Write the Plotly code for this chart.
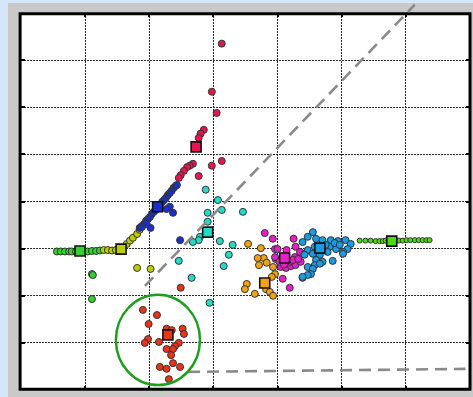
import plotly.graph_objects as go

# ---- data (cluster members and cluster centres) ----
crimson_x = [3.13, 2.975, 3.05, 2.85, 2.80, 2.77, 2.68, 2.63, 2.59, 2.54, 2.49, 2.46, 2.77, 2.975, 3.13]
crimson_y = [7.35, 6.33, 5.88, 5.52, 5.44, 5.35, 4.80, 4.76, 4.73, 4.65, 4.56, 4.50, 4.54, 4.76, 4.86]
crimson_c = [2.73, 5.16]

blue_x = [1.85, 1.885, 1.92, 1.95, 1.98, 2.01, 2.04, 2.07, 2.10, 2.165, 2.20, 2.23, 2.26, 2.29, 2.32, 2.35, 2.38, 2.41, 2.43,
          2.32, 2.37, 2.27, 2.02, 1.96, 1.885, 2.48]
blue_y = [3.44, 3.48, 3.52, 3.59, 3.63, 3.67, 3.74, 3.78, 3.82, 3.93, 3.99, 4.03, 4.08, 4.14, 4.18, 4.23, 4.29, 4.33, 4.35,
          3.89, 3.76, 3.84, 3.44, 3.52, 3.46, 3.18]
blue_c = [2.13, 3.89]

yellow_x = [1.29, 1.355, 1.42, 1.48, 1.65, 1.70, 1.745, 1.81, 1.85, 1.81, 2.02]
yellow_y = [2.97, 2.97, 2.96, 2.97, 3.10, 3.17, 3.23, 3.31, 3.40, 2.59, 2.57]
yellow_c = [1.56, 2.99]

green_x = [0.56, 0.62, 0.685, 0.75, 0.79, 0.857, 0.98, 1.04, 1.106, 1.17, 1.23, 1.106, 1.12, 1.106]
green_y = [2.94, 2.94, 2.94, 2.94, 2.94, 2.94, 2.94, 2.94, 2.95, 2.95, 2.96, 2.46, 2.44, 1.93]
green_c = [0.92, 2.95]

cyan_x = [2.88, 3.07, 3.13, 3.46, 2.91, 2.91, 2.79, 2.77, 2.68, 3.10, 3.30, 3.24, 3.16, 2.46, 2.66, 2.94]
cyan_y = [4.25, 4.03, 3.82, 3.78, 3.76, 3.57, 3.25, 3.18, 3.14, 3.16, 3.08, 2.87, 2.63, 2.74, 2.38, 1.85]
cyan_c = [2.91, 3.35]

orange_x = [3.54, 3.74, 3.785, 3.71, 3.83, 3.93, 3.96, 3.91, 3.52, 3.49, 3.645, 3.82, 3.88, 3.93, 3.69]
orange_y = [3.10, 3.01, 2.80, 2.65, 2.70, 2.61, 2.46, 2.40, 2.25, 2.14, 2.04, 2.14, 2.08, 2.00, 2.80]
orange_c = [3.80, 2.27]

magenta_x = [3.80, 3.925, 4.25, 3.96, 4.00, 3.97, 4.05, 4.13, 4.21, 4.28, 4.27, 4.28, 4.35, 4.08, 4.19, 4.39,
             3.96, 4.03, 4.36, 4.42, 4.14, 4.19, 4.10, 4.24, 4.32]
magenta_y = [3.33, 3.21, 3.21, 2.99, 2.99, 2.78, 2.61, 2.59, 2.63, 2.65, 2.82, 3.04, 2.93, 2.36, 2.17, 2.38,
             2.82, 2.72, 2.72, 2.89, 2.97, 2.72, 2.66, 2.76, 2.78]
magenta_c = [4.11, 2.80]

sky_x = [4.55, 4.47, 4.39, 4.60, 4.70, 4.83, 4.94, 5.06, 5.14, 5.09, 5.02, 4.91, 4.81, 4.75, 4.58, 4.47, 4.42,
         4.55, 4.66, 4.60, 4.70, 4.58, 4.47, 4.66, 4.86, 5.02, 4.55, 4.52, 4.47, 4.39, 4.89, 4.97, 4.78]
sky_y = [3.35, 3.25, 3.14, 3.21, 3.18, 3.18, 3.16, 3.18, 3.10, 2.99, 2.93, 2.99, 3.04, 3.08, 3.04, 2.97, 2.87,
         2.89, 2.87, 2.76, 2.72, 2.65, 2.61, 2.68, 2.74, 2.89, 2.57, 2.46, 2.44, 2.40, 3.12, 3.08, 2.93]
sky_c = [4.66, 3.01]

lime_x = [5.28, 5.37, 5.45, 5.53, 5.59, 5.64, 5.685, 5.73, 5.84, 5.89, 5.95, 6.01, 6.07, 6.14, 6.20, 6.26, 6.32, 6.37]
lime_y = [3.17, 3.17, 3.17, 3.16, 3.16, 3.16, 3.17, 3.17, 3.17, 3.17, 3.17, 3.18, 3.18, 3.18, 3.18, 3.18, 3.18, 3.18]
lime_c = [5.78, 3.16]

red_x = [1.90, 2.12, 1.99, 2.27, 2.35, 2.52, 2.54, 1.98, 1.93, 2.15, 2.46, 2.40, 2.27, 2.37, 2.34, 2.37, 2.48,
         2.165, 2.27, 2.305, 2.49]
red_y = [1.70, 1.59, 1.40, 1.30, 1.27, 1.30, 1.19, 1.08, 1.00, 1.02, 1.00, 0.93, 0.87, 0.87, 0.74, 0.57, 0.49,
         0.49, 0.45, 0.23, 2.17]
red_c = [2.29, 1.17]

clusters = [
    (green_x, green_y, green_c, "#33d22e", 7),
    (yellow_x, yellow_y, yellow_c, "#bccc00", 7),
    (blue_x, blue_y, blue_c, "#1a2fcc", 7),
    (crimson_x, crimson_y, crimson_c, "#ea1350", 7),
    (cyan_x, cyan_y, cyan_c, "#22dcc8", 7),
    (orange_x, orange_y, orange_c, "#f2a312", 7),
    (magenta_x, magenta_y, magenta_c, "#e81ec8", 7),
    (sky_x, sky_y, sky_c, "#1b9be2", 7),
    (lime_x, lime_y, lime_c, "#4cdc14", 5),
    (red_x, red_y, red_c, "#ea3418", 7),
]

fig = go.Figure()
for xs, ys, c, col, sz in clusters:
    fig.add_trace(go.Scatter(x=xs, y=ys, mode="markers",
                             marker=dict(symbol="circle", size=sz, color=col,
                                         line=dict(color="#333333", width=1)),
                             showlegend=False, hoverinfo="skip"))
for xs, ys, c, col, sz in clusters:
    fig.add_trace(go.Scatter(x=[c[0]], y=[c[1]], mode="markers",
                             marker=dict(symbol="square", size=10, color=col,
                                         line=dict(color="#111111", width=1.6)),
                             showlegend=False, hoverinfo="skip"))

shapes = [
    # light blue window strips
    dict(type="rect", xref="paper", yref="paper", x0=-0.05, x1=-0.029, y0=-0.03, y1=1.04,
         fillcolor="#d6e6fa", line=dict(width=0), layer="below"),
    dict(type="rect", xref="paper", yref="paper", x0=-0.05, x1=1.01, y0=1.0265, y1=1.04,
         fillcolor="#d6e6fa", line=dict(width=0), layer="below"),
    # frame
    dict(type="rect", xref="paper", yref="paper", x0=-0.002, x1=1.0, y0=0.002, y1=0.998,
         line=dict(color="#000000", width=3)),
    # dashed guide lines
    dict(type="line", xref="paper", yref="paper", x0=0.276, y0=0.276, x1=0.877, y1=1.022,
         line=dict(color="#8a8a8a", width=2.6, dash="12px,7px")),
    dict(type="line", xref="paper", yref="paper", x0=0.372, y0=0.048, x1=0.99, y1=0.056,
         line=dict(color="#8a8a8a", width=2.6, dash="12px,7px")),
    # green circle
    dict(type="circle", xref="x", yref="y", x0=1.48, x1=2.79, y0=0.106, y1=2.02,
         line=dict(color="#1f9e1f", width=2.5)),
]

axis_common = dict(showgrid=True, gridcolor="#2a2a2a", griddash="2px,1px", gridwidth=1,
                   showline=False, mirror="ticks",
                   ticks="inside", ticklen=4, tickwidth=2, tickcolor="#000000",
                   showticklabels=False, zeroline=False, dtick=1, fixedrange=True)

fig.update_layout(
    width=473, height=397,
    margin=dict(l=21, r=3, t=13, b=7),
    paper_bgcolor="#c9c9c9", plot_bgcolor="#ffffff",
    xaxis=dict(range=[0, 7], **axis_common),
    yaxis=dict(range=[0, 8], **axis_common),
    shapes=shapes,
)

fig.write_html("out.html")
